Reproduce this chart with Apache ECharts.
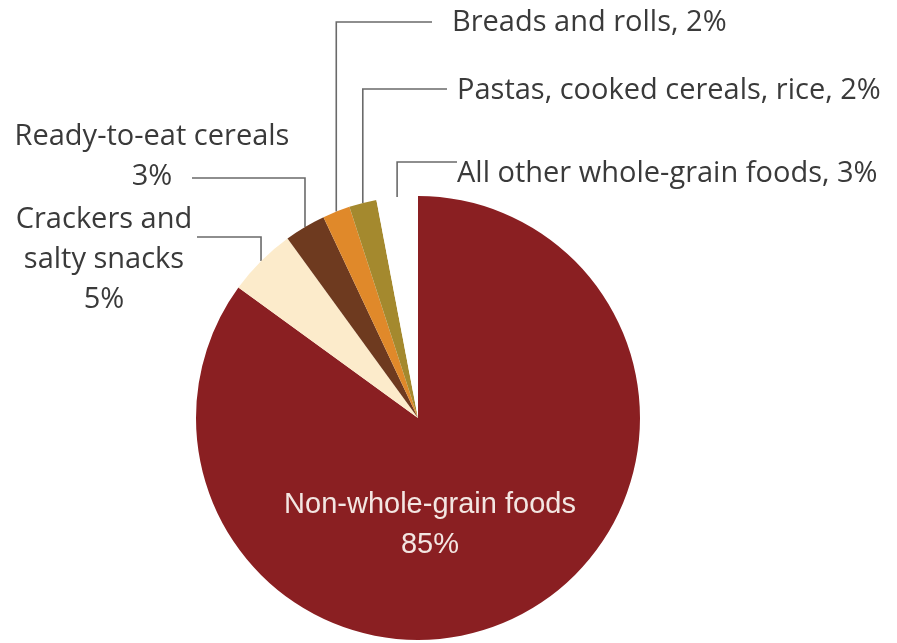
<!DOCTYPE html>
<html>
<head>
<meta charset="utf-8">
<script src="https://cdn.jsdelivr.net/npm/echarts@6/dist/echarts.min.js"></script>
<style>
  html, body { margin: 0; padding: 0; background: #fff; }
  #chart { width: 897px; height: 643px; }
</style>
</head>
<body>
<div id="chart"></div>
<script>
// clockwise from 12 o'clock
const names = [
  "Non-whole-grain foods",
  "Crackers and salty snacks",
  "Ready-to-eat cereals",
  "Breads and rolls",
  "Pastas, cooked cereals, rice",
  "All other whole-grain foods",
];
const shares = [85, 5, 3, 2, 2, 3];
const labelTexts = [
  "Non-whole-grain foods\n85%",
  "Crackers and\nsalty snacks\n5%",
  "Ready-to-eat cereals\n3%",
  "Breads and rolls, 2%",
  "Pastas, cooked cereals, rice, 2%",
  "All other whole-grain foods, 3%",
];
const colors = ["#8a1f22", "#fcebcb", "#6e3a1f", "#e0892a", "#a4892e", "#ffffff"];

// label placement: text anchor + where the elbow line turns and ends
const labelPos = [
  { x: 430, y: 525, align: "center", elbowY: null, endX: null },
  { x: 104, y: 260, align: "center", elbowY: 237, endX: 197 },
  { x: 152, y: 157, align: "center", elbowY: 178, endX: 192 },
  { x: 452, y: 23, align: "left", elbowY: 22, endX: 432 },
  { x: 457, y: 91, align: "left", elbowY: 89, endX: 447 },
  { x: 457, y: 174, align: "left", elbowY: 162, endX: 457 },
];

const chart = echarts.init(document.getElementById("chart"));
chart.setOption({
  animation: false,
  series: [
    {
      type: "pie",
      center: [418, 418],
      radius: [0, 222],
      startAngle: 90,
      clockwise: true,
      avoidLabelOverlap: false,
      itemStyle: { borderWidth: 0 },
      label: {
        show: true,
        position: "outside",
        color: "#3a3a3a",
        fontFamily: "Open Sans",
        fontSize: 29,
        lineHeight: 40,
        formatter: (p) => labelTexts[p.dataIndex],
      },
      labelLine: {
        show: true,
        length: 10,
        length2: 10,
        lineStyle: { color: "#6a6a6a", width: 1.6 },
      },
      labelLayout: (params) => {
        const lp = labelPos[params.dataIndex];
        const out = { x: lp.x, y: lp.y, align: lp.align, verticalAlign: "middle" };
        if (lp.elbowY != null && params.labelLinePoints) {
          const p0 = params.labelLinePoints[0];
          out.labelLinePoints = [
            [p0[0], p0[1]],
            [p0[0], lp.elbowY],
            [lp.endX, lp.elbowY],
          ];
        }
        return out;
      },
      data: names.map((n, i) => ({
        name: n,
        value: shares[i],
        itemStyle: { color: colors[i] },
        label: i === 0
          ? { position: "inside", color: "#f3e6e2", fontFamily: "Liberation Sans", fontSize: 29, lineHeight: 40 }
          : {},
        labelLine: i === 0 ? { show: false } : {},
      })),
    },
  ],
});
</script>
</body>
</html>
